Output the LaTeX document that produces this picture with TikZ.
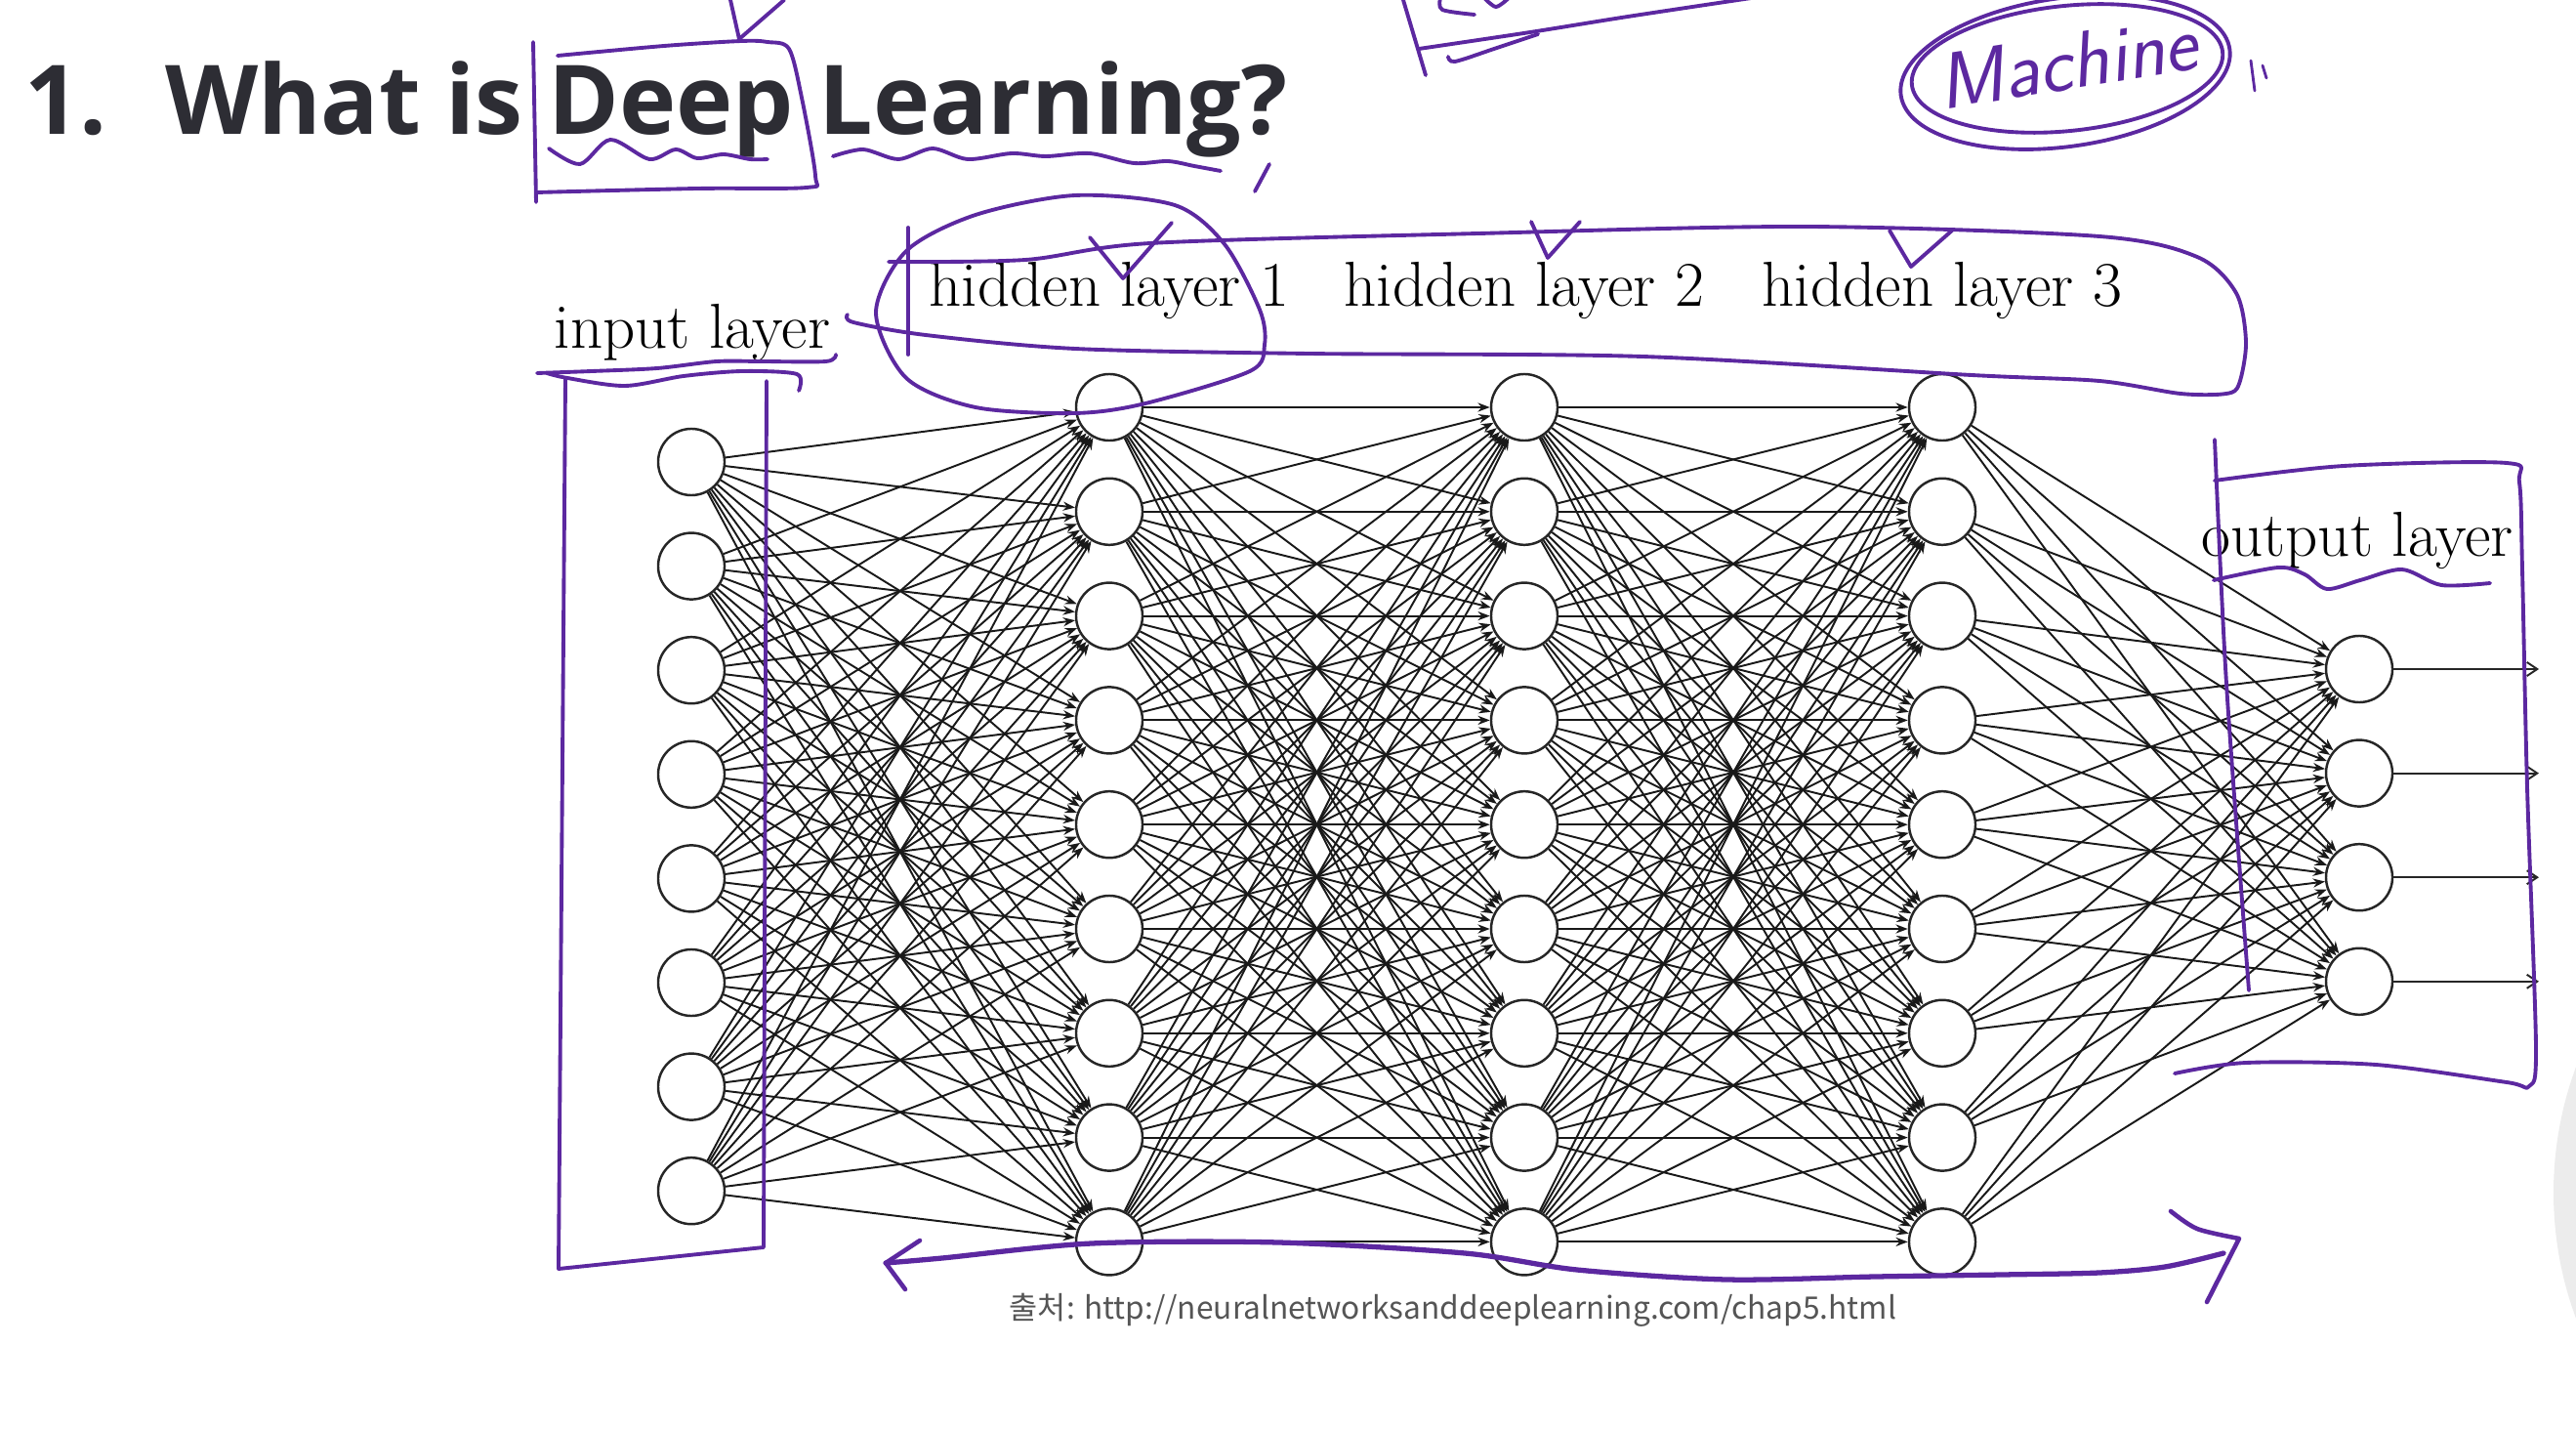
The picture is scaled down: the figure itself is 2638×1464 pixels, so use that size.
\documentclass[tikz,border=0pt]{standalone}
\usepackage{fontspec}
\usepackage{tikz}
\usetikzlibrary{arrows.meta}
\newfontfamily\titlefont{Open Sans}
\newfontfamily\krfont{Noto Sans CJK KR}
\definecolor{inkpurple}{RGB}{92,40,160}
\definecolor{titlegray}{RGB}{45,45,52}
\definecolor{srcgray}{RGB}{85,85,85}
\tikzset{
  neuron/.style={circle, draw=black!85, line width=0.7pt, minimum size=0.68cm, inner sep=0pt, fill=white},
  synapse/.style={black!90, line width=0.55pt, -{Stealth[length=3.5pt,width=2.6pt]}},
  outarrow/.style={black!85, line width=0.55pt, -{Straight Barb[length=3pt,width=4pt]}},
  layerlabel/.style={font=\fontsize{18.5}{20}\selectfont, anchor=base, inner sep=0pt},
  pen/.style={draw=inkpurple, line width=1.1pt, line cap=round, line join=round},
}
\begin{document}
\begin{tikzpicture}[x=0.01cm, y=-0.01cm]
  \clip (0,0) rectangle (2638,1464);
  \fill[white] (0,0) rectangle (2638,1464);
  \fill[gray!15] (2985,1221) circle [radius=370];

  % Title:
  \node[anchor=base west, inner sep=0pt, text=titlegray, font=\titlefont\bfseries\fontsize{28}{33}\selectfont] (title) at (25,138) {1.\hspace{0.6em}What is Deep Learning?};

  % Layers:
  \foreach \i in {1,...,8} \node[neuron] (in-\i) at (708, {473+(\i-1)*106.6}) {};
  \foreach \i in {1,...,9} {
    \node[neuron] (h1-\i) at (1136, {417+(\i-1)*106.8}) {};
    \node[neuron] (h2-\i) at (1561, {417+(\i-1)*106.8}) {};
    \node[neuron] (h3-\i) at (1989, {417+(\i-1)*106.8}) {};
  }
  \foreach \i in {1,...,4} \node[neuron] (out-\i) at (2416, {685+(\i-1)*106.6}) {};

  % Connections:
  \foreach \i in {1,...,8} \foreach \j in {1,...,9} \draw[synapse] (in-\i) -- (h1-\j);
  \foreach \i in {1,...,9} \foreach \j in {1,...,9} {
    \draw[synapse] (h1-\i) -- (h2-\j);
    \draw[synapse] (h2-\i) -- (h3-\j);
  }
  \foreach \i in {1,...,9} \foreach \j in {1,...,4} \draw[synapse] (h3-\i) -- (out-\j);
  \foreach \i in {1,...,4} {
    \coordinate (y-\i) at (2600, {685+(\i-1)*106.6});
    \draw[outarrow] (out-\i) -- (y-\i);
  }

  % Labels:
  \node[layerlabel] (lab-in) at (709,357) {input layer};
  \node[layerlabel] (lab-h1) at (1136,314) {hidden layer 1};
  \node[layerlabel] (lab-h2) at (1561,314) {hidden layer 2};
  \node[layerlabel] (lab-h3) at (1989,314) {hidden layer 3};
  \node[layerlabel] (lab-out) at (2414,570) {output layer};

  % Source:
  \node[text=srcgray, font=\krfont\fontsize{9}{11}\selectfont] (src) at (1488,1341) {출처: http://neuralnetworksanddeeplearning.com/chap5.html};

  % Pen marks on the title:
  \draw[pen] plot[smooth] coordinates {(571,57) (680,47) (759,42) (786,43) (808,50) (821,100) (835,180) (826,192) (714,193) (549,197)};
  \draw[pen] (546,43) -- (549,207);
  \draw[pen] (748,0) -- (757,40) -- (803,0);
  \draw[pen] plot[smooth] coordinates {(562,152) (594,168) (625,143) (665,163) (692,153) (714,162) (741,158) (768,163) (786,163)};
  \draw[pen] plot[smooth] coordinates {(853,160) (884,153) (920,163) (955,152) (991,163) (1036,157) (1071,160) (1116,157) (1161,167) (1196,165) (1223,170) (1250,175)};
  \draw[pen] (1300,168) -- (1285,196);

  % Pen marks at the top:
  \draw[pen] (1437,0) -- (1460,77);
  \draw[pen] plot[smooth] coordinates {(1453,50) (1567,33) (1667,17) (1800,-3)};
  \draw[pen] plot[smooth] coordinates {(1483,58) (1490,63) (1530,50) (1575,35)};
  \draw[pen] plot[smooth] coordinates {(1475,-2) (1477,10) (1510,15)};
  \draw[pen] plot[smooth] coordinates {(1520,-2) (1532,7) (1545,-2)};
  \draw[pen, rotate around={8:(2115,74)}] (2115,74) ellipse [x radius=170, y radius=76];
  \draw[pen, rotate around={6:(2117,70)}] (2117,70) ellipse [x radius=160, y radius=64];
  \node[text=inkpurple, font=\sffamily\itshape\fontsize{23}{25}\selectfont, rotate=9] (mach) at (2117,64) {Machine};
  \draw[pen, line width=0.8pt] (2305,62) -- (2309,93);
  \draw[pen, line width=0.8pt] (2317,67) -- (2321,80);

  % Pen marks on the layer labels:
  \draw[pen] plot[smooth cycle] coordinates {(897,320) (928,257) (999,220) (1101,200) (1203,210) (1254,250) (1290,317) (1295,353) (1280,380) (1173,413) (1101,423) (999,417) (928,387)};
  \draw[pen] plot[smooth] coordinates {(910,268) (1050,266) (1178,249) (1514,239) (1851,232) (2150,242) (2250,263) (2290,300) (2300,350) (2293,393) (2280,403) (2233,403) (2150,390) (2019,384) (1682,365) (1340,362) (1101,357) (948,343) (874,330) (868,322)};
  \draw[pen] (930,233) -- (930,363);
  \draw[pen] (1116,243) -- (1150,285) -- (1200,228);
  \draw[pen] (1568,227) -- (1585,264) -- (1618,227);
  \draw[pen] (1935,236) -- (1957,273) -- (1999,236);

  % Input box:
  \draw[pen] plot[smooth] coordinates {(550,382) (606,380) (673,377) (734,370) (780,370) (846,370) (856,363)};
  \draw[pen] plot[smooth] coordinates {(560,382) (581,387) (640,395) (700,385) (760,380) (816,383) (818,400)};
  \draw[pen] (579,388) -- (572,1299) -- (782,1277) -- (785,390);

  % Output box:
  \draw[pen] plot[smooth] coordinates {(2268,450) (2280,700) (2303,1014)};
  \draw[pen] plot[smooth] coordinates {(2268,492) (2400,477) (2567,474) (2580,494) (2583,583) (2588,806) (2597,1072) (2590,1112) (2567,1108) (2433,1090) (2300,1088) (2227,1099)};
  \draw[pen] plot[smooth] coordinates {(2267,594) (2333,581) (2360,588) (2383,603) (2417,594) (2460,583) (2500,599) (2550,597)};

  % Bottom arrow:
  \draw[pen, line width=1.5pt] plot[smooth] coordinates {(907,1293) (965,1288) (1118,1273) (1309,1272) (1500,1283) (1615,1300) (1768,1310) (1921,1307) (2050,1305) (2150,1303) (2217,1297) (2277,1283)};
  \draw[pen, line width=1.3pt] (942,1270) -- (907,1293) -- (927,1320);
  \draw[pen, line width=1.3pt] plot[smooth] coordinates {(2223,1240) (2250,1258) (2293,1268)} -- (2260,1333);
\end{tikzpicture}
\end{document}
